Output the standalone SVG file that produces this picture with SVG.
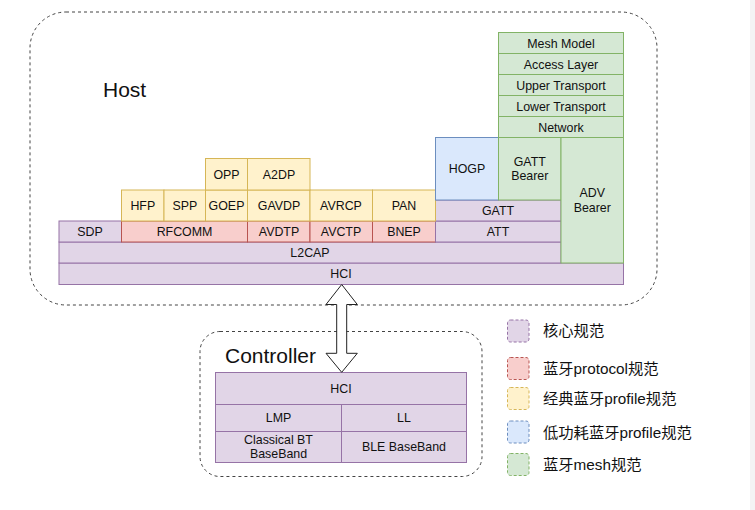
<svg xmlns="http://www.w3.org/2000/svg" width="755" height="510" viewBox="0 0 755 510">
<style>
text{font-family:"Liberation Sans",Arial,Helvetica,sans-serif;font-size:12.4px;fill:#111;text-anchor:middle}
.core{fill:#e1d5e7;stroke:#9673a6}
.proto{fill:#f8cecc;stroke:#b85450}
.prof{fill:#fff2cc;stroke:#d6b656}
.ble{fill:#dae8fc;stroke:#6c8ebf}
.mesh{fill:#d5e8d4;stroke:#82b366}
.grp{fill:none;stroke:#444;stroke-dasharray:3 3}
.leg{stroke-dasharray:3 2}
.big{font-size:21px;text-anchor:start}
.lt{font-size:15.3px;text-anchor:start;font-family:"Liberation Sans","Noto Sans CJK SC",sans-serif}
</style>
<rect x="0" y="0" width="755" height="510" fill="#ffffff"/>
<rect x="750" y="0" width="5" height="510" fill="#f4f4f4"/>

<g id="host">
<rect class="grp" x="30" y="12" width="627" height="293" rx="36"/>
<text class="big" x="103" y="97">Host</text>
</g>

<g id="controller">
<rect class="grp" x="200" y="331.5" width="282" height="145" rx="20"/>
<text class="big" x="225" y="363">Controller</text>
</g>

<g id="hci-host"><rect class="core" x="59" y="263" width="564.5" height="21.5"/><text x="341" y="278">HCI</text></g>
<g id="l2cap"><rect class="core" x="59" y="242" width="502" height="21"/><text x="310" y="257">L2CAP</text></g>
<g id="sdp"><rect class="core" x="59" y="221" width="62.5" height="21"/><text x="90" y="236">SDP</text></g>
<g id="rfcomm"><rect class="proto" x="121.5" y="221" width="126" height="21"/><text x="184.5" y="236">RFCOMM</text></g>
<g id="avdtp"><rect class="proto" x="247.5" y="221" width="62.5" height="21"/><text x="279" y="236">AVDTP</text></g>
<g id="avctp"><rect class="proto" x="310" y="221" width="62.5" height="21"/><text x="341" y="236">AVCTP</text></g>
<g id="bnep"><rect class="proto" x="372.5" y="221" width="63" height="21"/><text x="404" y="236">BNEP</text></g>
<g id="att"><rect class="core" x="435.5" y="221" width="125.5" height="21"/><text x="498" y="236">ATT</text></g>
<g id="gatt"><rect class="core" x="435.5" y="200" width="125.5" height="21"/><text x="498" y="215">GATT</text></g>

<g id="hfp"><rect class="prof" x="121.5" y="190" width="42.5" height="31"/><text x="142.8" y="210">HFP</text></g>
<g id="spp"><rect class="prof" x="164" y="190" width="41.5" height="31"/><text x="184.8" y="210">SPP</text></g>
<g id="goep"><rect class="prof" x="205.5" y="190" width="42" height="31"/><text x="226.5" y="210">GOEP</text></g>
<g id="gavdp"><rect class="prof" x="247.5" y="190" width="62.5" height="31"/><text x="279" y="210">GAVDP</text></g>
<g id="avrcp"><rect class="prof" x="310" y="190" width="62.5" height="31"/><text x="341" y="210">AVRCP</text></g>
<g id="pan"><rect class="prof" x="372.5" y="190" width="63" height="31"/><text x="404" y="210">PAN</text></g>
<g id="opp"><rect class="prof" x="205.5" y="158.5" width="42" height="31.5"/><text x="226.5" y="178.5">OPP</text></g>
<g id="a2dp"><rect class="prof" x="247.5" y="158.5" width="62.5" height="31.5"/><text x="279" y="178.5">A2DP</text></g>

<g id="hogp"><rect class="ble" x="435.5" y="137.5" width="63" height="62.5"/><text x="467" y="173">HOGP</text></g>

<g id="gatt-bearer"><rect class="mesh" x="498.5" y="137.5" width="62.5" height="62.5"/><text x="529.8" y="166">GATT</text><text x="529.8" y="180">Bearer</text></g>
<g id="adv-bearer"><rect class="mesh" x="561" y="137.5" width="62.5" height="125.5"/><text x="592.3" y="197">ADV</text><text x="592.3" y="212">Bearer</text></g>
<g id="network"><rect class="mesh" x="498.5" y="116.5" width="125" height="21"/><text x="561" y="131.5">Network</text></g>
<g id="lower-transport"><rect class="mesh" x="498.5" y="95.5" width="125" height="21"/><text x="561" y="110.5">Lower Transport</text></g>
<g id="upper-transport"><rect class="mesh" x="498.5" y="74.5" width="125" height="21"/><text x="561" y="89.5">Upper Transport</text></g>
<g id="access-layer"><rect class="mesh" x="498.5" y="53.5" width="125" height="21"/><text x="561" y="68.5">Access Layer</text></g>
<g id="mesh-model"><rect class="mesh" x="498.5" y="32.5" width="125" height="21"/><text x="561" y="47.5">Mesh Model</text></g>

<g id="hci-ctrl"><rect class="core" x="215.5" y="372.5" width="251" height="32"/><text x="341" y="392.5">HCI</text></g>
<g id="lmp"><rect class="core" x="215.5" y="404.5" width="126" height="27"/><text x="278.5" y="422">LMP</text></g>
<g id="ll"><rect class="core" x="341.5" y="404.5" width="125" height="27"/><text x="404" y="422">LL</text></g>
<g id="classical-bb"><rect class="core" x="215.5" y="431.5" width="126" height="31"/><text x="278.5" y="444">Classical BT</text><text x="278.5" y="458">BaseBand</text></g>
<g id="ble-bb"><rect class="core" x="341.5" y="431.5" width="125" height="31"/><text x="404" y="451">BLE BaseBand</text></g>

<g id="connectors">
<polygon points="341.7,284.5 357.3,304.5 346.7,304.5 346.7,353.3 357.3,353.3 341.7,372.3 326,353.3 336.7,353.3 336.7,304.5 326,304.5" fill="#ffffff" stroke="#222" stroke-width="1"/>
</g>

<g id="legend">
<rect class="core leg" x="507.5" y="320" width="21.5" height="22" rx="3"/>
<text class="lt" x="543" y="336">核心规范</text>
<rect class="proto leg" x="507.5" y="357.5" width="21.5" height="22" rx="3"/>
<text class="lt" x="543" y="374">蓝牙protocol规范</text>
<rect class="prof leg" x="507.5" y="387.5" width="21.5" height="22" rx="3"/>
<text class="lt" x="543" y="404">经典蓝牙profile规范</text>
<rect class="ble leg" x="507.5" y="421" width="21.5" height="22" rx="3"/>
<text class="lt" x="543" y="438">低功耗蓝牙profile规范</text>
<rect class="mesh leg" x="507.5" y="453.5" width="21.5" height="22" rx="3"/>
<text class="lt" x="543" y="470">蓝牙mesh规范</text>
</g>
</svg>
